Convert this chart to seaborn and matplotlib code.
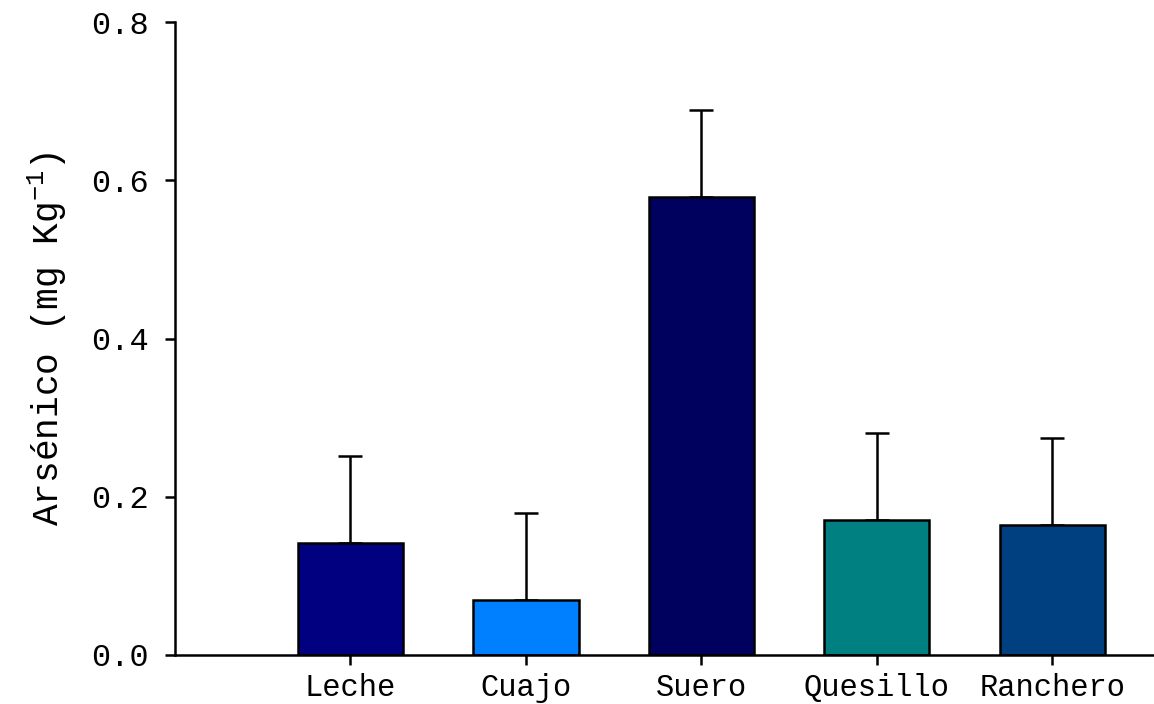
"""
Arsenic content by dairy product - bar chart with error bars
"""

import matplotlib
matplotlib.use("Agg")
import matplotlib.pyplot as plt
import seaborn as sns
import pandas as pd
import numpy as np

# Data
products = ["Leche", "Cuajo", "Suero", "Quesillo", "Ranchero"]
arsenic_mean = [0.142, 0.070, 0.579, 0.170, 0.164]
arsenic_err = [0.110, 0.110, 0.110, 0.110, 0.110]
bar_colors = ["#000080", "#0080FF", "#00005E", "#008080", "#004080"]
y_ticks = [0.0, 0.2, 0.4, 0.6, 0.8]

sns.set_style("ticks", {"axes.edgecolor": "black", "text.color": "black",
                        "xtick.color": "black", "ytick.color": "black",
                        "axes.labelcolor": "black"})
plt.rcParams['font.family'] = ['Liberation Mono', 'DejaVu Sans']
plt.rcParams['mathtext.fontset'] = 'custom'
plt.rcParams['mathtext.rm'] = 'Liberation Mono'
plt.rcParams['mathtext.it'] = 'Liberation Mono'

df = pd.DataFrame({"Producto": products, "Arsenico": arsenic_mean})

fig = plt.figure(figsize=(11.54, 7.04), dpi=100)
ax = fig.add_axes([175 / 1154, 49 / 704, 979 / 1154, 633 / 704])

# Error bars behind the bars, upper half only
ax.errorbar(np.arange(len(products)), arsenic_mean,
            yerr=[np.zeros(len(products)), arsenic_err],
            fmt='none', ecolor='black', elinewidth=1.8,
            capsize=8.5, capthick=1.8, zorder=1)

sns.barplot(data=df, x="Producto", y="Arsenico", hue="Producto",
            palette=bar_colors, saturation=1, width=0.6, errorbar=None,
            legend=False, edgecolor="black", linewidth=1.8, ax=ax, zorder=2)

ax.set_xlim(-1, 4.58)
ax.set_ylim(0, 0.8)
ax.set_yticks(y_ticks)
ax.yaxis.set_major_formatter(plt.FuncFormatter(lambda v, p: f'{v:.1f}'))

ax.set_xlabel("")
ax.set_ylabel("Arsénico (mg Kg$^{-1}$)", fontsize=26, labelpad=16)

sns.despine(ax=ax)
for side in ["left", "bottom"]:
    ax.spines[side].set_linewidth(1.8)

ax.tick_params(axis='y', direction='out', length=7, width=1.8,
               labelsize=23, pad=12)
ax.tick_params(axis='x', direction='out', length=7, width=1.8,
               labelsize=22, pad=6)

plt.savefig("out.png", dpi=100)
